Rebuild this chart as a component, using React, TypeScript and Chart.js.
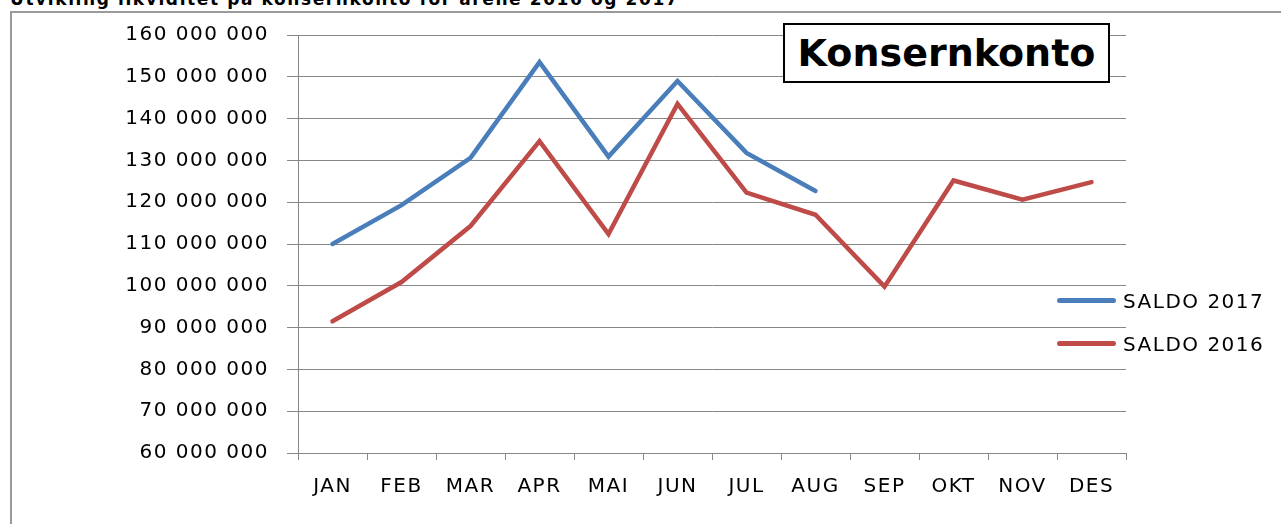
import React, { useEffect, useRef } from "react";
import { Chart, registerables } from "chart.js";

Chart.register(...registerables);

const months = ["JAN", "FEB", "MAR", "APR", "MAI", "JUN", "JUL", "AUG", "SEP", "OKT", "NOV", "DES"];
const saldo2017: (number | null)[] = [110000000, 119300000, 130600000, 153500000, 130900000, 149000000, 131800000, 122700000, null, null, null, null];
const saldo2016: number[] = [91500000, 100900000, 114300000, 134600000, 112400000, 143500000, 122300000, 117000000, 99800000, 125200000, 120600000, 124800000];
const seriesNames = ["SALDO 2017", "SALDO 2016"];
const seriesColors = ["#4a7ebb", "#be4b48"];
const yMin = 60000000;
const yMax = 160000000;
const yStep = 10000000;
const pageTitle = "Utvikling likviditet på konsernkonto for årene 2016 og 2017";
const chartTitle = "Konsernkonto";

const FONT = "'DejaVu Sans', sans-serif";
const GRID = "#878787";

function fmt(v: number): string {
  return String(Math.round(v)).replace(/\B(?=(\d{3})+(?!\d))/g, " ");
}

const spacingPlugin = {
  id: "letterSpacing",
  beforeDraw(chart: any) {
    (chart.ctx as any).letterSpacing = "1.5px";
  },
};

export default function App() {
  const ref = useRef<HTMLCanvasElement | null>(null);

  useEffect(() => {
    if (!ref.current) return;
    const chart = new Chart(ref.current, {
      type: "line",
      data: {
        labels: months,
        datasets: [
          {
            label: seriesNames[0],
            data: saldo2017,
            borderColor: seriesColors[0],
            backgroundColor: seriesColors[0],
            borderWidth: 4.5,
            pointRadius: 0,
            borderCapStyle: "round",
            borderJoinStyle: "miter",
            spanGaps: false,
            tension: 0,
          },
          {
            label: seriesNames[1],
            data: saldo2016,
            borderColor: seriesColors[1],
            backgroundColor: seriesColors[1],
            borderWidth: 4.5,
            pointRadius: 0,
            borderCapStyle: "round",
            borderJoinStyle: "miter",
            tension: 0,
          },
        ],
      },
      options: {
        responsive: false,
        animation: false,
        layout: { padding: { top: 35, right: 155, bottom: 0, left: 0 } },
        plugins: {
          legend: { display: false },
          title: { display: false },
          tooltip: { enabled: false },
        },
        font: { family: FONT, size: 20 },
        scales: {
          x: {
            type: "category",
            offset: true,
            grid: {
              offset: true,
              drawOnChartArea: false,
              drawTicks: true,
              tickLength: 7,
              color: GRID,
              lineWidth: 1,
            },
            border: { color: GRID, width: 1 },
            ticks: {
              color: "#000",
              font: { family: FONT, size: 20 },
              padding: 15,
              maxRotation: 0,
              autoSkip: false,
            },
            afterFit(scale: any) {
              scale.height = 71;
            },
          },
          y: {
            type: "linear",
            min: yMin,
            max: yMax,
            grid: {
              color: GRID,
              lineWidth: 1,
              drawTicks: true,
              tickLength: 11,
            },
            border: { color: GRID, width: 1 },
            ticks: {
              stepSize: yStep,
              color: "#000",
              font: { family: FONT, size: 20 },
              padding: 18,
              callback: (v: any) => fmt(Number(v)),
            },
            afterFit(scale: any) {
              scale.width = 298;
            },
          },
        },
      } as any,
      plugins: [spacingPlugin],
    });
    return () => chart.destroy();
  }, []);

  return (
    <div style={{ position: "absolute", left: 0, top: 0, width: 1281, height: 524, overflow: "hidden", background: "#fff" }}>
      <div
        style={{
          position: "absolute",
          left: 10,
          top: -11,
          fontFamily: FONT,
          fontWeight: "bold",
          fontSize: 17,
          lineHeight: "20px",
          letterSpacing: "1.6px",
          whiteSpace: "nowrap",
          color: "#000",
        }}
      >
        {pageTitle}
      </div>
      <div
        style={{
          position: "absolute",
          left: 10,
          top: 11,
          width: 1300,
          height: 600,
          border: "2px solid #9a9a9a",
          boxSizing: "border-box",
        }}
      />
      <canvas ref={ref} width={1281} height={524} style={{ position: "absolute", left: 0, top: 0, width: 1281, height: 524 }} />
      <div
        style={{
          position: "absolute",
          left: 783,
          top: 23,
          width: 327,
          height: 60,
          boxSizing: "border-box",
          border: "2px solid #000",
          background: "#fff",
          fontFamily: FONT,
          fontWeight: "bold",
          fontSize: 38,
          lineHeight: "56px",
          textAlign: "center",
          color: "#000",
          whiteSpace: "nowrap",
        }}
      >
        {chartTitle}
      </div>
      {seriesNames.map((name, i) => (
        <React.Fragment key={name}>
          <div
            style={{
              position: "absolute",
              left: 1057,
              top: (i === 0 ? 300 : 343) - 2.5,
              width: 59,
              height: 5,
              borderRadius: 2.5,
              background: seriesColors[i],
            }}
          />
          <div
            style={{
              position: "absolute",
              left: 1123,
              top: (i === 0 ? 301 : 344) - 12,
              fontFamily: FONT,
              fontSize: 20,
              lineHeight: "24px",
              letterSpacing: "1.5px",
              whiteSpace: "nowrap",
              color: "#000",
            }}
          >
            {name}
          </div>
        </React.Fragment>
      ))}
    </div>
  );
}
